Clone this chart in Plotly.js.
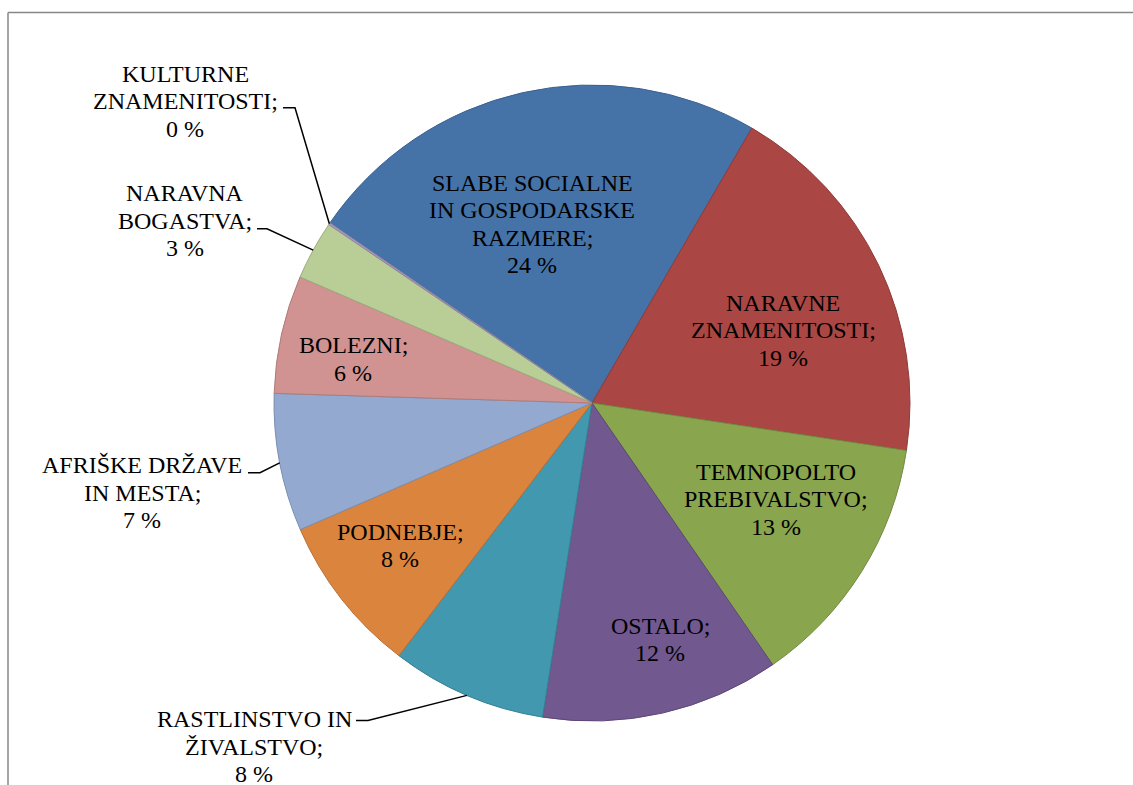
<!DOCTYPE html>
<html><head><meta charset="utf-8">
<script src="https://cdn.plot.ly/plotly-3.0.1.min.js"></script>
<style>html,body{margin:0;padding:0;background:#fff;} #chart{width:1133px;height:785px;}</style>
</head><body><div id="chart"></div>
<script>
// ---- data ----
const categories = [
  'SLABE SOCIALNE<br>IN GOSPODARSKE<br>RAZMERE',
  'NARAVNE<br>ZNAMENITOSTI',
  'TEMNOPOLTO<br>PREBIVALSTVO',
  'OSTALO',
  'RASTLINSTVO IN<br>ŽIVALSTVO',
  'PODNEBJE',
  'AFRIŠKE DRŽAVE<br>IN MESTA',
  'BOLEZNI',
  'NARAVNA<br>BOGASTVA',
  'KULTURNE<br>ZNAMENITOSTI'
];
const shares = [23.8, 19.0, 13.0, 12.1, 7.9, 8.1, 7.0, 6.0, 3.0, 0.1];
const percentLabels = shares.map(v => Math.round(v) + ' %');

// ---- style ----
const fillColors = ['#4572A7','#AA4643','#89A54E','#71588F','#4198AF','#DB843D','#93A9CF','#D19392','#B9CD96','#A99BBD'];
const lineColors = ['#3b6190','#8f3b38','#728a41','#5d4876','#367f93','#b86e33','#7b8fb0','#b07b7a','#9bad7e','#8e82a0'];

const W = 1133, H = 785, CX = 592, CY = 403, R = 318, ROT = -55.5;
const LINE_GAP = 27.5;
const FONT = {family: 'Liberation Serif', size: 24, color: '#000'};

// label block placement (pixel centre of first line) and leader elbows for outside labels
const labelPlacement = [
  {x: 532, y: 182.5},
  {x: 783, y: 302.5},
  {x: 776, y: 471.7},
  {x: 660, y: 625.8},
  {x: 254, y: 719, elbow: [368, 720.5], end: [356, 720.5]},
  {x: 400, y: 531.7},
  {x: 142, y: 465, elbow: [260, 472.7], end: [248, 472.7]},
  {x: 353, y: 345},
  {x: 185, y: 193, elbow: [267, 228.7], end: [257, 228.7]},
  {x: 185, y: 73.7, elbow: [295, 107.7], end: [283, 107.7]}
];

const px = x => x / W;
const py = y => 1 - y / H;

const annotations = [];
const shapes = [];
const total = shares.reduce((a, b) => a + b, 0);
let cum = 0;
shares.forEach((v, i) => {
  const midDeg = ROT + (cum + v / 2) / total * 360;
  cum += v;
  const p = labelPlacement[i];
  const lines = categories[i].split('<br>');
  lines[lines.length - 1] += ';';
  lines.push(percentLabels[i]);
  lines.forEach((t, k) => {
    annotations.push({
      x: px(p.x), y: py(p.y + k * LINE_GAP), xref: 'paper', yref: 'paper',
      text: t, showarrow: false, xanchor: 'center', yanchor: 'middle', font: FONT
    });
  });
  if (p.elbow) {
    const a = midDeg * Math.PI / 180;
    const ex = CX + R * Math.sin(a), ey = CY - R * Math.cos(a);
    shapes.push({
      type: 'path', xref: 'paper', yref: 'paper',
      path: `M ${px(ex)},${py(ey)} L ${px(p.elbow[0])},${py(p.elbow[1])} L ${px(p.end[0])},${py(p.end[1])}`,
      line: {color: '#000', width: 1.5}
    });
  }
});

// outer frame (top and left edges visible)
shapes.push({type: 'line', xref: 'paper', yref: 'paper', x0: px(8), y0: py(12.5), x1: px(W + 5), y1: py(12.5), line: {color: '#878787', width: 1.5}});
shapes.push({type: 'line', xref: 'paper', yref: 'paper', x0: px(8), y0: py(12.5), x1: px(8), y1: py(H + 5), line: {color: '#878787', width: 1.5}});

const trace = {
  type: 'pie',
  labels: categories.map(c => c.replace(/<br>/g, ' ')),
  values: shares,
  sort: false,
  direction: 'clockwise',
  rotation: ROT,
  textinfo: 'none',
  hoverinfo: 'label+percent',
  marker: {colors: fillColors, line: {color: lineColors, width: 1}},
  domain: {x: [(CX - R) / W, (CX + R) / W], y: [1 - (CY + R) / H, 1 - (CY - R) / H]},
  showlegend: false
};

Plotly.newPlot('chart', [trace], {
  width: W, height: H,
  margin: {l: 0, r: 0, t: 0, b: 0},
  paper_bgcolor: '#fff',
  showlegend: false,
  annotations: annotations,
  shapes: shapes
}, {staticPlot: true});
</script>
</body></html>
